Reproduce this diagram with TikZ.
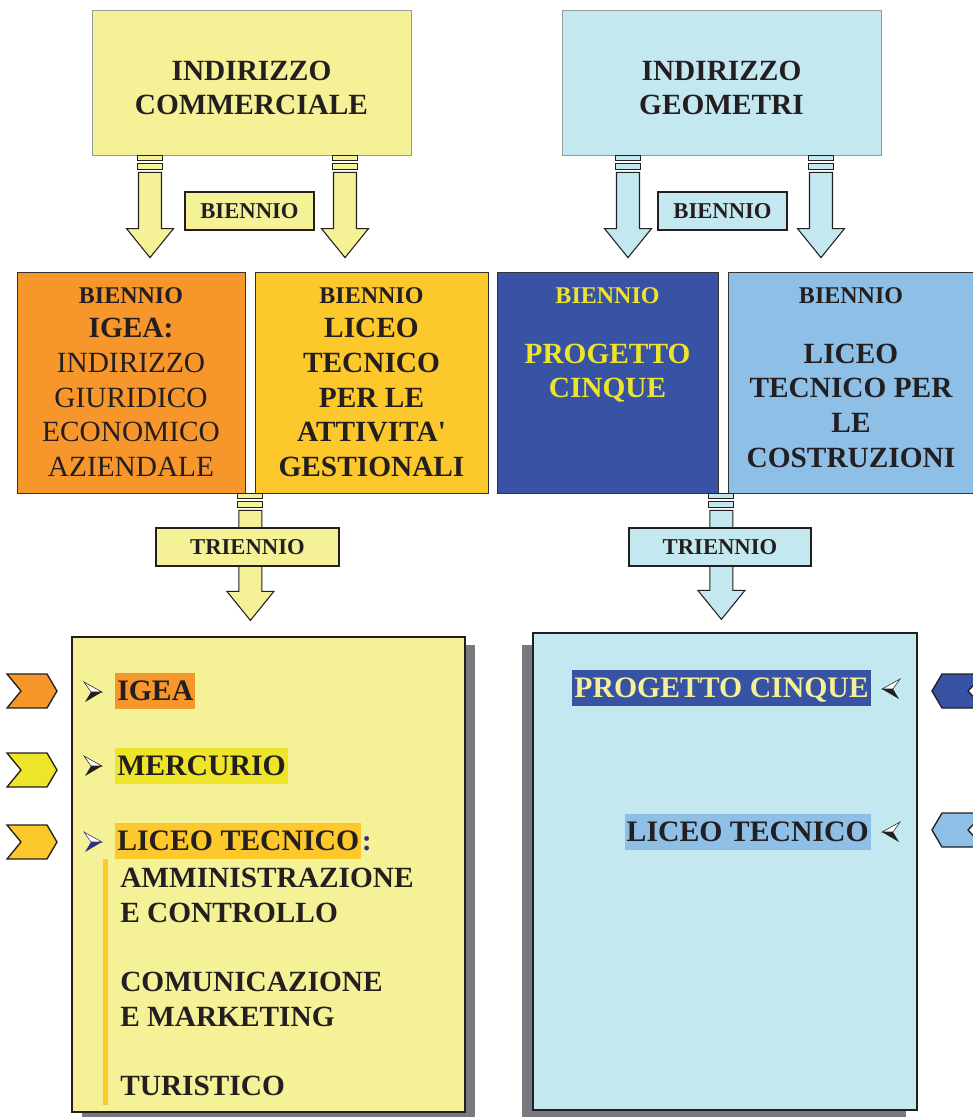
\documentclass[tikz,border=0pt]{standalone}
\usepackage{fontspec}
\setmainfont{Liberation Serif}[Ligatures=TeXOff]
\usetikzlibrary{calc,positioning}

\definecolor{paleyellow}{HTML}{F5F197}
\definecolor{palecyan}{HTML}{C4E8F0}
\definecolor{igeaorange}{HTML}{F7962B}
\definecolor{gold}{HTML}{FDC82B}
\definecolor{navy}{HTML}{3953A4}
\definecolor{sky}{HTML}{8EBFE6}
\definecolor{lemon}{HTML}{EEE52B}
\definecolor{ink}{HTML}{231F20}
\definecolor{shadowgray}{HTML}{78787E}
\definecolor{bulletnavy}{HTML}{2E3080}

\newdimen\pxu \pxu=0.75pt
\newcommand{\bien}{\fontsize{18}{22}\selectfont BIENNIO}

\tikzset{
	panel/.style={draw=black!80, line width=0.6pt, inner sep=0pt},
	tagbox/.style={draw=ink, line width=0.8pt, fill=paleyellow, minimum height=38\pxu, inner sep=0pt, text=ink, font=\bfseries\fontsize{17}{20}\selectfont},
	bigtext/.style={align=center, inner sep=0pt, text=ink, font=\bfseries\fontsize{22}{26}\selectfont},
	hilite/.style={inner xsep=1.5pt, inner ysep=0pt, minimum height=36\pxu, text height=14.6pt, text depth=0pt, text=ink, font=\bfseries\fontsize{22.3}{26}\selectfont}
}

% fill, start, tip
\newcommand{\blockarrow}[3]{%
	\filldraw[fill=#1, draw=ink, line width=0.8pt] ($(#2)+(-12.5,0)$) rectangle ($(#2)+(12.5,5)$);
	\filldraw[fill=#1, draw=ink, line width=0.8pt] ($(#2)+(-12.5,8)$) rectangle ($(#2)+(12.5,14)$);
	\filldraw[fill=#1, draw=ink, line width=0.8pt] ($(#2)+(-11.5,17)$) -- ($(#3)+(-11.5,-29)$) -- ($(#3)+(-23.5,-29)$) -- (#3) -- ($(#3)+(23.5,-29)$) -- ($(#3)+(11.5,-29)$) -- ($(#2)+(11.5,17)$) -- cycle;}

% x tip, y, direction, colour
\newcommand{\dart}[4]{%
	\filldraw[fill=white, draw=#4, line width=0.4pt] ({#1-18*(#3)},#2-10) -- (#1,#2) -- ({#1-11*(#3)},#2) -- cycle;
	\fill[#4] ({#1-11*(#3)},#2) -- (#1,#2) -- ({#1-17*(#3)},#2+10) -- cycle;}

\begin{document}
\begin{tikzpicture}[x=0.75pt,y=-0.75pt]
	\useasboundingbox (0,0) rectangle (973,1117);
	
	% indirizzi
	\node[panel, draw=black!40, fill=paleyellow, minimum width=319\pxu, minimum height=145\pxu] (commerciale) at (251.5,82.5) {};
	\node[bigtext, anchor=north] (commtxt) at ($(commerciale.north)+(0,51)$) {INDIRIZZO\\COMMERCIALE};
	\node[panel, draw=black!40, fill=palecyan, minimum width=319\pxu, minimum height=145\pxu] (geometri) at (721.5,82.5) {};
	\node[bigtext, anchor=north] (geomtxt) at ($(geometri.north)+(0,51)$) {INDIRIZZO\\GEOMETRI};
	
	% bienni
	\node[panel, fill=igeaorange, minimum width=228\pxu, minimum height=221\pxu] (igea) at (131,382.5) {};
	\node[panel, fill=gold, minimum width=233\pxu, minimum height=221\pxu] (liceotag) at (371.5,382.5) {};
	\node[panel, fill=navy, minimum width=221\pxu, minimum height=221\pxu] (progetto) at (607.5,382.5) {};
	\node[panel, fill=sky, minimum width=250\pxu, minimum height=221\pxu] (liceocostr) at (853,382.5) {};
	
	\node[bigtext, anchor=north] (igeatxt) at ($(igea.north)+(0,15.5)$) {{\bien}\\IGEA:\\\mdseries INDIRIZZO\\\mdseries GIURIDICO\\\mdseries ECONOMICO\\\mdseries AZIENDALE};
	\node[bigtext, anchor=north] (liceotagtxt) at ($(liceotag.north)+(0,15.5)$) {{\bien}\\LICEO\\TECNICO\\PER LE\\ATTIVITA'\\GESTIONALI};
	\node[bigtext, text=lemon, anchor=north] (progettotxt) at ($(progetto.north)+(0,15.5)$) {{\bien}\\[19pt]PROGETTO\\CINQUE};
	\node[bigtext, anchor=north] (liceocostrtxt) at ($(liceocostr.north)+(-2,15.5)$) {{\bien}\\[19pt]LICEO\\TECNICO PER\\LE\\COSTRUZIONI};
	
	% frecce biennio
	\coordinate (s1) at ($(commerciale.south)+(-101.5,0)$);
	\coordinate (s2) at ($(commerciale.south)+(93.5,0)$);
	\coordinate (s3) at ($(geometri.south)+(-93.5,0)$);
	\coordinate (s4) at ($(geometri.south)+(99.5,0)$);
	\foreach \s/\c in {s1/paleyellow, s2/paleyellow, s3/palecyan, s4/palecyan}
	{
		\coordinate (t\s) at ($(\s |- igea.north)+(0,-14)$);
		\blockarrow{\c}{\s}{t\s}
	};
	\node[tagbox, minimum width=129\pxu] (bien1) at (249.5,211) {BIENNIO};
	\node[tagbox, minimum width=129\pxu, fill=palecyan] (bien2) at (722.5,211) {BIENNIO};
	
	% frecce triennio
	\coordinate (s5) at ($(igea.south east)+(5,0)$);
	\coordinate (t5) at ($(s5)+(0,127)$);
	\coordinate (s6) at ($(progetto.south east)+(3,0)$);
	\coordinate (t6) at ($(s6)+(0,126)$);
	\blockarrow{paleyellow}{s5}{t5}
	\blockarrow{palecyan}{s6}{t6}
	\node[tagbox, minimum width=183\pxu] (trien1) at (247.5,547) {TRIENNIO};
	\node[tagbox, minimum width=182\pxu, fill=palecyan] (trien2) at (720,547) {TRIENNIO};
	
	% trienni
	\fill[shadowgray] (82,645) rectangle (475,1125);
	\node[panel, draw=ink, line width=1.2pt, fill=paleyellow, minimum width=393\pxu, minimum height=475\pxu] (commtrien) at (268.5,874.5) {};
	\fill[shadowgray] (522,645) rectangle (906,1125);
	\node[panel, draw=ink, line width=1.2pt, fill=palecyan, minimum width=384\pxu, minimum height=477\pxu] (geomtrien) at (725,871.5) {};
	
	\foreach \y/\c in {691/igeaorange, 770/lemon, 842/gold}
	{\filldraw[fill=\c, draw=ink, line width=1pt] (7,\y-17) -- (47,\y-17) -- (57,\y) -- (47,\y+17) -- (7,\y+17) -- (21,\y) -- cycle;}
	\foreach \y/\c in {691/navy, 830/sky}
	{\filldraw[fill=\c, draw=ink, line width=1pt] (932,\y) -- (942,\y-17) -- (984,\y-17) -- (968,\y) -- (984,\y+17) -- (942,\y+17) -- cycle;}
	
	\dart{102}{692}{1}{ink}
	\dart{102}{766}{1}{ink}
	\dart{102}{842}{1}{bulletnavy}
	\node[hilite, fill=igeaorange, anchor=west] (igeahl) at (115,691) {IGEA};
	\node[hilite, fill=lemon, anchor=west] (mercurio) at (115,766) {MERCURIO};
	\node[hilite, fill=gold, anchor=west] (liceohl) at (115,841) {LICEO TECNICO};
	\node[hilite, text=bulletnavy, anchor=west, inner xsep=0pt] (colon) at (liceohl.east) {:};
	\fill[gold] (103,859) rectangle (108,1105);
	\node[bigtext, align=left, anchor=north west] (articolazioni) at (120,868) {AMMINISTRAZIONE\\E CONTROLLO\\[26pt]COMUNICAZIONE\\E MARKETING\\[26pt]TURISTICO};
	
	\node[hilite, fill=navy, text=paleyellow, anchor=east] (progettohl) at (871,688) {PROGETTO CINQUE};
	\node[hilite, fill=sky, anchor=east] (liceohl2) at (871,832) {LICEO TECNICO};
	\dart{882}{689}{-1}{ink}
	\dart{882}{832}{-1}{ink}
	
\end{tikzpicture}
\end{document}
